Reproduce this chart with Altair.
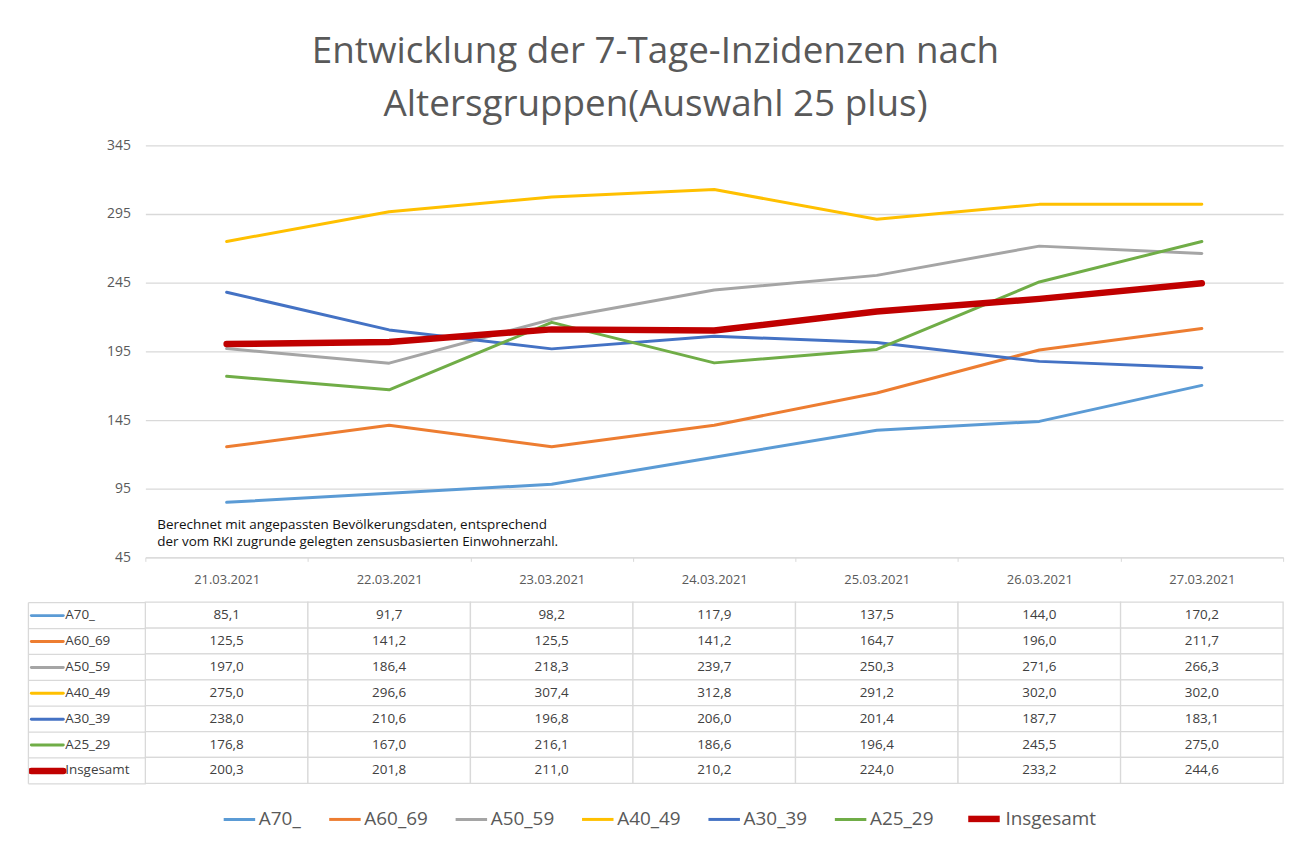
import altair as alt
import pandas as pd

dates = ["21.03.2021", "22.03.2021", "23.03.2021", "24.03.2021",
         "25.03.2021", "26.03.2021", "27.03.2021"]
series = ["A70_", "A60_69", "A50_59", "A40_49", "A30_39", "A25_29", "Insgesamt"]

a70 = [85.1, 91.7, 98.2, 117.9, 137.5, 144.0, 170.2]
a60_69 = [125.5, 141.2, 125.5, 141.2, 164.7, 196.0, 211.7]
a50_59 = [197.0, 186.4, 218.3, 239.7, 250.3, 271.6, 266.3]
a40_49 = [275.0, 296.6, 307.4, 312.8, 291.2, 302.0, 302.0]
a30_39 = [238.0, 210.6, 196.8, 206.0, 201.4, 187.7, 183.1]
a25_29 = [176.8, 167.0, 216.1, 186.6, 196.4, 245.5, 275.0]
insgesamt = [200.3, 201.8, 211.0, 210.2, 224.0, 233.2, 244.6]

y_ticks = [45, 95, 145, 195, 245, 295, 345]
colors = ["#5B9BD5", "#ED7D31", "#A5A5A5", "#FFC000", "#4472C4", "#70AD47", "#C00000"]
widths = [3, 3, 3, 3, 3, 3, 6.5]

title_lines = ["Entwicklung der 7-Tage-Inzidenzen nach", "Altersgruppen(Auswahl 25 plus)"]
note_lines = ["Berechnet mit angepassten Bevölkerungsdaten, entsprechend",
              "der vom RKI zugrunde gelegten zensusbasierten Einwohnerzahl."]

all_values = [a70, a60_69, a50_59, a40_49, a30_39, a25_29, insgesamt]
rows = []
for s, vals in zip(series, all_values):
    for d, v in zip(dates, vals):
        rows.append({"Serie": s, "Datum": d, "Wert": v,
                     "Label": f"{v:.1f}".replace(".", ",")})
df = pd.DataFrame(rows)

GRID = "#d9d9d9"
TXT = "#595959"
FONT = "Open Sans"

color_map = "{" + ",".join(f"'{s}':'{c}'" for s, c in zip(series, colors)) + "}"
width_map = "{" + ",".join(f"'{s}':{w}" for s, w in zip(series, widths)) + "}"

x_band = alt.Scale(type="band", paddingInner=0, paddingOuter=0)

legend = alt.Legend(title=None, orient="none", legendX=77, legendY=657,
                    direction="horizontal", symbolType="stroke", symbolSize=1000,
                    labelFontSize=19, labelColor=TXT, labelFont=FONT,
                    columnPadding=21, labelOffset=2)

base = alt.Chart(df).encode(
    x=alt.X("Datum:N", sort=dates, scale=x_band, bandPosition=0.5,
            axis=alt.Axis(title=None, labelAngle=0, labelFontSize=13, labelColor=TXT,
                          labelFont=FONT, domain=True, domainColor=GRID,
                          ticks=True, tickBand="extent", tickSize=4, tickColor=GRID,
                          labelPadding=12, grid=False)),
    y=alt.Y("Wert:Q", scale=alt.Scale(domain=[45, 345], nice=False, zero=False),
            axis=alt.Axis(title=None, values=y_ticks, domain=False, ticks=False,
                          labelPadding=15, labelFontSize=14, labelColor=TXT,
                          labelFont=FONT, grid=True, gridColor=GRID, gridWidth=1.3)),
    color=alt.Color("Serie:N", sort=series,
                    scale=alt.Scale(domain=series, range=colors), legend=legend),
    strokeWidth=alt.StrokeWidth("Serie:N", sort=series,
                                scale=alt.Scale(type="ordinal", domain=series, range=widths),
                                legend=legend),
)

thin = base.transform_filter(alt.datum.Serie != "Insgesamt").mark_line(
    strokeCap="round", strokeJoin="round")
total = base.transform_filter(alt.datum.Serie == "Insgesamt").mark_line(
    strokeCap="round", strokeJoin="round")

note = alt.Chart(pd.DataFrame({"n": [0]})).mark_text(
    text=note_lines, align="left", baseline="middle", fontSize=13.5, font=FONT,
    color="#111111", lineHeight=17.5, fontWeight=500
).encode(x=alt.value(12), y=alt.value(381))

line_chart = alt.layer(thin, total, note).properties(width=1143, height=414)

# ---- data table ----
tx = alt.X("Datum:N", sort=dates, scale=x_band, axis=None)
ty_scale = alt.Scale(type="band", paddingInner=0, paddingOuter=0)

cells = alt.Chart(df).mark_rect(fill="white", stroke=GRID, strokeWidth=1.3).encode(
    x=tx,
    y=alt.Y("Serie:N", sort=series, scale=ty_scale,
            axis=alt.Axis(title=None, orient="left", offset=0, domain=False,
                          ticks=True, tickBand="extent", tickSize=118,
                          tickColor=GRID, tickWidth=1.3, labels=False)),
)

texts = alt.Chart(df).mark_text(fontSize=13.5, font=FONT, color="#404040").encode(
    x=tx,
    y=alt.Y("Serie:N", sort=series, scale=ty_scale,
            axis=alt.Axis(title=None, orient="left", offset=83, domain=False,
                          ticks=True, tickSize=32, tickCap="round",
                          tickColor={"expr": color_map + "[datum.value]"},
                          tickWidth={"expr": width_map + "[datum.value]"},
                          labelAlign="left", labelPadding=-34, labelFontSize=13.5,
                          labelFont=FONT, labelColor="#404040")),
    text="Label:N",
)

border = alt.Chart(df).mark_rect(opacity=0).encode(
    x=tx,
    y=alt.Y("Serie:N", sort=series, scale=ty_scale,
            axis=alt.Axis(title=None, orient="left", offset=118, domain=True,
                          domainColor=GRID, domainWidth=1.3, ticks=False,
                          labels=False)),
)

table = alt.layer(cells, texts, border).resolve_axis(y="independent").properties(
    width=1143, height=182)

chart = alt.vconcat(line_chart, table, spacing=15).properties(
    title=alt.Title(text=title_lines, fontSize=37, font=FONT, fontWeight="normal",
                    color=TXT, lineHeight=54, anchor="middle", offset=14,
                    frame="bounds"),
    padding={"left": 19, "top": 23, "right": 20, "bottom": 10},
    background="white",
).configure_view(stroke=None)

chart.save("out.html", embed_options={"renderer": "svg", "actions": False})
